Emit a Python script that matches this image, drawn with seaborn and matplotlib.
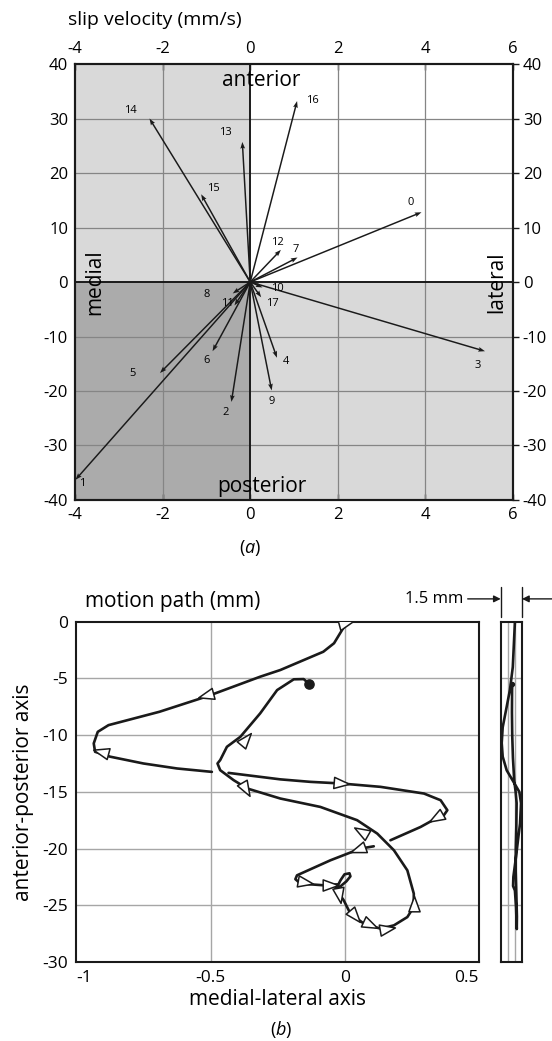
import numpy as np
import pandas as pd
import matplotlib
matplotlib.use("Agg")
import matplotlib.pyplot as plt
import seaborn as sns
from matplotlib.markers import MarkerStyle
from matplotlib.path import Path
from matplotlib.transforms import Affine2D

sns.set_theme(style="white")
plt.rcParams['font.family'] = ['Open Sans', 'DejaVu Sans']
plt.rcParams['mathtext.fontset'] = 'custom'
plt.rcParams['mathtext.it'] = 'Open Sans:italic'
plt.rcParams['mathtext.rm'] = 'Open Sans'
for key in ('text.color', 'axes.labelcolor', 'xtick.color', 'ytick.color'):
    plt.rcParams[key] = 'black'

# ---- slip velocity vectors (mm/s): medial-lateral, anterior-posterior ----
vec_id = list(range(18))
vel_ml = [3.91, -3.99, -0.43, 5.36, 0.61, -2.06, -0.86, 1.08, -0.40,
          0.49, 0.28, -0.36, 0.70, -0.18, -2.30, -1.12, 1.07, 0.25]
vel_ap = [12.8, -36.3, -22.0, -12.7, -13.9, -16.7, -12.7, 4.5, -2.1,
          -19.9, -1.0, -4.3, 5.9, 25.7, 30.0, 16.1, 33.2, -2.8]
# number label positions
lab_ml = [3.67, -3.83, -0.57, 5.2, 0.82, -2.69, -1.0, 1.05, -1.0,
          0.49, 0.63, -0.51, 0.61, -0.57, -2.74, -0.85, 1.41, 0.51]
lab_ap = [14.5, -37.0, -23.9, -15.3, -14.6, -16.8, -14.4, 6.0, -2.3,
          -21.9, -1.2, -3.9, 7.3, 27.5, 31.5, 17.2, 33.3, -4.0]
vel_xticks = [-4, -2, 0, 2, 4, 6]
vel_yticks = [-40, -30, -20, -10, 0, 10, 20, 30, 40]

# ---- motion path (mm), split where the trace passes under itself ----
path_seg0_ml = [0.01, -0.01, -0.04, -0.08, -0.24, -0.315, -0.51, -0.69, -0.88,
                -0.92, -0.935, -0.93, -0.874, -0.75, -0.625, -0.495]
path_seg0_ap = [0.0, -0.73, -1.9, -2.65, -4.26, -4.85, -6.56, -7.94, -9.12,
                -9.71, -10.73, -11.47, -11.9, -12.5, -12.94, -13.24]
path_seg1_ml = [-0.433, -0.24, -0.128, -0.016, 0.133, 0.295, 0.357, 0.382,
                0.369, 0.351, 0.282, 0.17]
path_seg1_ap = [-13.33, -13.9, -14.12, -14.26, -14.56, -15.15, -15.74, -16.62,
                -17.06, -17.2, -18.1, -19.27]
path_seg2_ml = [0.108, 0.059, -0.053, -0.178, -0.184, -0.165, -0.078, -0.0235,
                -0.016, -0.001, 0.0175, 0.021, 0.006, -0.016, -0.035, -0.004,
                0.021, 0.071, 0.133, 0.183, 0.233, 0.257, 0.257, 0.233, 0.183,
                0.121, 0.046, -0.091, -0.24, -0.364, -0.414, -0.464, -0.474,
                -0.464, -0.439, -0.389, -0.315, -0.252, -0.19, -0.153, -0.132]
path_seg2_ap = [-19.8, -20.0, -21.03, -22.36, -22.7, -23.09, -23.24, -23.15,
                -22.8, -22.27, -22.18, -22.45, -22.89, -23.33, -23.5, -24.56,
                -25.74, -26.62, -27.06, -26.77, -26.04, -25.15, -23.97, -21.92,
                -20.15, -18.68, -17.5, -16.33, -15.59, -14.7, -13.97, -13.09,
                -12.5, -12.2, -11.03, -10.15, -8.08, -6.03, -5.08, -5.06, -5.5]
end_ml, end_ap = -0.132, -5.5

# direction markers along the path: position and pointing angle (deg)
tri_ml = [0.0, -0.513, -0.905, -0.37, -0.37, -0.016, 0.345, 0.065, 0.052,
          -0.153, -0.06, -0.022, 0.257, 0.034, 0.09, 0.152]
tri_ap = [-0.1, -6.47, -11.47, -10.44, -14.7, -14.26, -17.2, -18.53, -20.0,
          -22.95, -23.24, -23.97, -25.0, -25.89, -26.62, -27.06]
tri_ang = [15, 195, 165, 50, -60, -5, 210, 150, 200, -10, 0, -80, 90, -50, -25, 10]
path_xticks = [-1, -0.5, 0, 0.5]
path_xticklabels = ['-1', '-0.5', '0', '0.5']
path_yticks = [-30, -25, -20, -15, -10, -5, 0]

# ---- depth trace (mm) against anterior-posterior position ----
depth_ap = [0.0, -1.6, -4.0, -6.0, -7.5, -9.3, -10.7, -11.9, -13.1, -14.1, -15.0,
            -16.0, -17.8, -19.0, -20.7, -22.5, -23.3, -23.7, -25.2, -27.1,
            -26.0, -24.0, -22.0, -20.0, -18.0, -16.0, -15.0, -14.0, -12.0,
            -10.0, -8.0, -6.0, -5.5]
depth_z = [0.0, -0.06, -0.15, -0.35, -0.58, -0.86, -0.93, -0.86, -0.58, -0.11,
           0.31, 0.43, 0.36, 0.24, 0.08, -0.11, -0.13, 0.0, 0.08, 0.13,
           0.14, 0.1, 0.06, 0.06, 0.1, 0.12, 0.05, -0.05, -0.14, -0.19,
           -0.21, -0.2, -0.18]

path_df = pd.concat([
    pd.DataFrame({'ml': path_seg0_ml, 'ap': path_seg0_ap, 'seg': 0}),
    pd.DataFrame({'ml': path_seg1_ml, 'ap': path_seg1_ap, 'seg': 1}),
    pd.DataFrame({'ml': path_seg2_ml, 'ap': path_seg2_ap, 'seg': 2}),
], ignore_index=True)
depth_df = pd.DataFrame({'z': depth_z, 'ap': depth_ap})

fig = plt.figure(figsize=(5.52, 10.41), dpi=100)
fig.patch.set_facecolor('white')

# =============== (a) slip velocity ===============
ax1 = fig.add_axes([0.1359, 0.5197, 0.7935, 0.4188])
ax1.set_xlim(-4, 6)
ax1.set_ylim(-40, 40)
light, dark = '#d9d9d9', '#ababab'
ax1.fill_between([-4, 0], 0, 40, color=light, lw=0, zorder=0)
ax1.fill_between([-4, 0], -40, 0, color=dark, lw=0, zorder=0)
ax1.fill_between([0, 6], -40, 0, color=light, lw=0, zorder=0)
for gx in [-2, 2, 4]:
    ax1.axvline(gx, color='#858585', lw=0.9, zorder=1)
for gy in [-30, -20, -10, 10, 20, 30]:
    ax1.axhline(gy, color='#858585', lw=0.9, zorder=1)
ax1.axvline(0, color='k', lw=1.4, zorder=2)
ax1.axhline(0, color='k', lw=1.4, zorder=2)
ax1.quiver(np.zeros(len(vel_ml)), np.zeros(len(vel_ap)), vel_ml, vel_ap,
           angles='xy', scale_units='xy', scale=1, width=0.0034,
           headwidth=3.2, headlength=4.5, headaxislength=4.0, color='k', zorder=3)
for i, lx, ly in zip(vec_id, lab_ml, lab_ap):
    ax1.text(lx, ly, str(i), fontsize=8, ha='center', va='center', zorder=4)
ax1.text(0.26, 37, 'anterior', fontsize=15, ha='center', va='center')
ax1.text(0.26, -37.6, 'posterior', fontsize=15, ha='center', va='center')
ax1.text(-3.54, 0, 'medial', fontsize=15, ha='center', va='center', rotation=90)
ax1.text(5.62, 0, 'lateral', fontsize=15, ha='center', va='center', rotation=90)

ax1.set_xticks(vel_xticks)
ax1.set_xticklabels([str(v) for v in vel_xticks])
ax1.set_yticks(vel_yticks)
ax1.set_yticklabels([str(v) for v in vel_yticks])
ax1.tick_params(axis='x', top=True, bottom=True, labeltop=True, labelbottom=True,
                direction='in', length=4.5, width=1, labelsize=12, pad=5, color='k')
ax1.tick_params(axis='y', left=True, right=False, labelleft=True, labelright=False,
                direction='in', length=0, labelsize=12, pad=5)
ax1r = ax1.twinx()
ax1r.set_ylim(-40, 40)
ax1r.set_yticks(vel_yticks)
ax1r.set_yticklabels([str(v) for v in vel_yticks])
ax1r.tick_params(axis='y', right=True, direction='out', length=4, width=1,
                 labelsize=12, pad=3, color='k')
for ax in (ax1, ax1r):
    for s in ax.spines.values():
        s.set_color('k')
        s.set_linewidth(1.5)

fig.text(68 / 552, 1 - 20 / 1041, 'slip velocity (mm/s)', fontsize=14,
         ha='left', va='center')
fig.text(250 / 552, 1 - 548 / 1041, r'($\it{a}$)', fontsize=13,
         ha='center', va='center')

# =============== (b) motion path ===============
ax2 = fig.add_axes([0.1382, 0.0759, 0.7296, 0.3269])
ax2.set_xlim(-1, 0.5)
ax2.set_ylim(-30, 0)
for gx in [-0.5, 0]:
    ax2.axvline(gx, color='#a6a6a6', lw=1, zorder=0)
for gy in [-25, -20, -15, -10, -5]:
    ax2.axhline(gy, color='#a6a6a6', lw=1, zorder=0)
sns.lineplot(data=path_df, x='ml', y='ap', units='seg', estimator=None,
             sort=False, color='k', lw=1.9, ax=ax2, legend=False, zorder=2)
ax2.scatter([end_ml], [end_ap], s=44, color='k', zorder=4)

tri_path = Path([(1.0, 0.0), (-0.7, 0.62), (-0.7, -0.62), (1.0, 0.0)],
                [Path.MOVETO, Path.LINETO, Path.LINETO, Path.CLOSEPOLY])
for tx, ty, ta in zip(tri_ml, tri_ap, tri_ang):
    m = MarkerStyle(tri_path, transform=Affine2D().rotate_deg(ta))
    ax2.plot([tx], [ty], marker=m, markersize=13, markerfacecolor='white',
             markeredgecolor='k', markeredgewidth=1.1, ls='none', zorder=3)

ax2.set_xticks(path_xticks)
ax2.set_xticklabels(path_xticklabels)
ax2.set_yticks(path_yticks)
ax2.set_yticklabels([str(v) for v in path_yticks])
ax2.tick_params(axis='both', length=0, labelsize=12.5, pad=6)
xl = ax2.get_xticklabels()
xl[0].set_ha('left')
xl[-1].set_ha('right')
ax2.set_xlabel('medial-lateral axis', fontsize=15, labelpad=2)
ax2.set_ylabel('anterior-posterior axis', fontsize=15, labelpad=6)
for s in ax2.spines.values():
    s.set_color('k')
    s.set_linewidth(1.5)

fig.text(85 / 552, 1 - 602 / 1041, 'motion path (mm)', fontsize=15,
         ha='left', va='center')
fig.text(281 / 552, 1 - 1030 / 1041, r'($\it{b}$)', fontsize=13,
         ha='center', va='center')

# =============== depth strip ===============
ax3 = fig.add_axes([0.9071, 0.0759, 0.0386, 0.3269])
ax3.set_xlim(-1, 0.5)
ax3.set_ylim(-30, 0)
for gx in [-0.5, 0]:
    ax3.axvline(gx, color='#a6a6a6', lw=1, zorder=0)
for gy in [-25, -20, -15, -10, -5]:
    ax3.axhline(gy, color='#a6a6a6', lw=1, zorder=0)
sns.lineplot(data=depth_df, x='z', y='ap', estimator=None, sort=False,
             color='k', lw=1.9, ax=ax3, legend=False, zorder=2)
ax3.scatter([depth_z[-1]], [depth_ap[-1]], s=8, color='k', zorder=3)
ax3.set_xticks([])
ax3.set_yticks([])
ax3.set_xlabel('')
ax3.set_ylabel('')
for s in ax3.spines.values():
    s.set_color('k')
    s.set_linewidth(1.5)

# width marker above the strip
for fx in (0, 1):
    ax3.plot([fx, fx], [1.014, 1.102], transform=ax3.transAxes, clip_on=False,
             color='k', lw=1)
ax3.annotate('', xy=(0, 1.067), xycoords='axes fraction', xytext=(-1.55, 1.067),
             textcoords='axes fraction',
             arrowprops=dict(arrowstyle='-|>', lw=1, color='k', shrinkA=0,
                             shrinkB=0, mutation_scale=10))
ax3.annotate('', xy=(1, 1.067), xycoords='axes fraction', xytext=(2.45, 1.067),
             textcoords='axes fraction',
             arrowprops=dict(arrowstyle='-|>', lw=1, color='k', shrinkA=0,
                             shrinkB=0, mutation_scale=10))
fig.text(463 / 552, 1 - 599 / 1041, '1.5 mm', fontsize=12, ha='right', va='center')

fig.savefig('out.png', dpi=100, facecolor='white')
